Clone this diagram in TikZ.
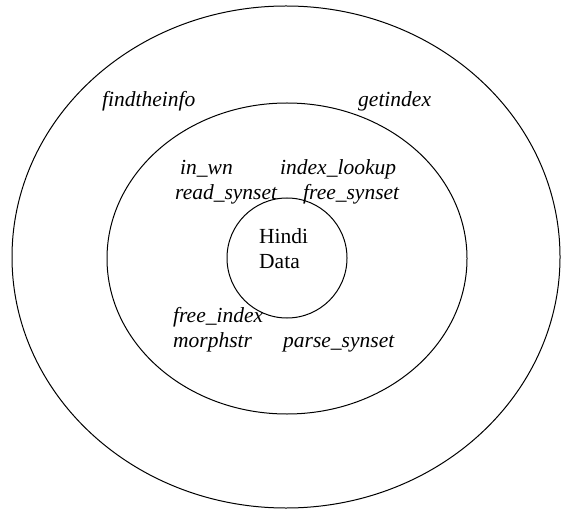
\documentclass[tikz,border=0pt]{standalone}
\usepackage{fontspec}
\setmainfont{Liberation Serif}
\newfontfamily\labelfont{Liberation Serif}
\usetikzlibrary{shapes.geometric}
\definecolor{diagramText}{HTML}{000000}

\begin{document}
\begin{tikzpicture}[
  x=1pt, y=-1pt,
  layer/.style={
    draw=diagramText,
    ellipse,
    line width=1pt,
    inner sep=0pt
  },
  fn/.style={
    anchor=base west,
    inner sep=0pt,
    text=diagramText,
    font=\labelfont\fontsize{21.5}{25}\selectfont\itshape
  }
]
\useasboundingbox (0,0) rectangle (561,510);

% Three nested layers around the data.
\node[layer, minimum width=548pt, minimum height=502pt] (outer) at (286,257) {};
\node[layer, minimum width=360pt, minimum height=311pt] (middle) at (287,258.5) {};
\node[layer, circle, minimum size=120pt] (core) at (287,258) {};

\node[anchor=west, inner sep=0pt, align=left, text=diagramText,
      font=\labelfont\fontsize{21.5}{25}\selectfont] (data) at (259,249) {Hindi\\Data};

% Outer layer functions.
\node[fn] (findinfo) at (102,107) {findtheinfo};
\node[fn] (getindex) at (358,107) {getindex};

% Middle layer functions.
\node[fn] (inwn) at (180,175) {in\_wn};
\node[fn] (lookup) at (280,175) {index\_lookup};
\node[fn] (readsyn) at (175,200) {read\_synset};
\node[fn] (freesyn) at (303,200) {free\_synset};
\node[fn] (freeidx) at (173,322) {free\_index};
\node[fn] (morph) at (173,347) {morphstr};
\node[fn] (parsesyn) at (283,347) {parse\_synset};

\end{tikzpicture}
\end{document}
